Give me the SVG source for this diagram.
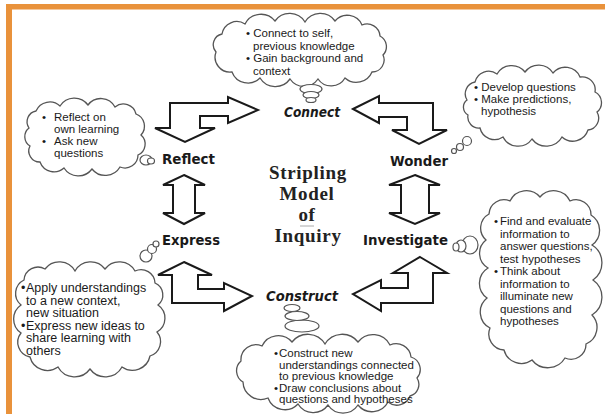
<svg xmlns="http://www.w3.org/2000/svg" width="605" height="414" viewBox="0 0 605 414">
<style>
.cloud{fill:#fff;stroke:#555;stroke-width:1.3}
.bub{fill:#fff;stroke:#555;stroke-width:1.2}
.arrow{fill:#fff;stroke:#1a1a1a;stroke-width:2;stroke-linejoin:miter}
.t{font-family:"Liberation Sans",Arial,sans-serif;font-size:11.5px;fill:#1a1a1a}
.t2{font-family:"Liberation Sans",Arial,sans-serif;font-size:12.5px;fill:#1a1a1a}
.lbl{font-family:"DejaVu Sans",sans-serif;font-weight:bold;font-size:14px;fill:#1a1a1a}
.it{font-style:italic}
.title{font-family:"Liberation Serif","Times New Roman",serif;font-weight:bold;font-size:19px;letter-spacing:0.7px;fill:#222;text-anchor:middle}
</style>
<rect x="0" y="0" width="605" height="414" fill="#fff"/>
<g id="border">
<rect x="6" y="4" width="599" height="5.5" fill="#E9923B"/>
<rect x="6" y="4" width="6" height="410" fill="#E9923B"/>
</g>
<g id="connectors">
<polygon class="arrow" points="170,128 170,103 228,103 228,97 258,110 228,123 228,116 200,116 200,128 215,128 185,142 155,128"/>
<polygon class="arrow" points="353,109 379,96 379,103 433,103 433,130 447,130 419,144 392,130 407,130 407,117 379,117 379,123"/>
<polygon class="arrow" points="184,262 212,275 198,275 198,289 224,289 224,283 252,296 224,311 224,303 172,303 172,275 158,275"/>
<polygon class="arrow" points="420,257 447,273 433,273 433,303 381,303 381,311 353,294 381,280 381,288 408,288 408,273 393,273"/>
<polygon class="arrow" points="184,175 205,185 195,185 195,213 205,213 184,224 163,213 173,213 173,185 163,185"/>
<polygon class="arrow" points="415,175 440,185 429,185 429,213 440,213 415,224 389,213 401,213 401,185 389,185"/>
</g>
<g id="title">
<text class="title" x="308" y="179">Stripling</text>
<text class="title" x="307" y="200">Model</text>
<text class="title" x="307" y="221">of</text>
<line x1="300" y1="226" x2="314" y2="226" stroke="#aaa" stroke-width="1"/>
<text class="title" x="308" y="242">Inquiry</text>
</g>
<g id="connect">
<text class="lbl it" x="284" y="117" textLength="56" lengthAdjust="spacingAndGlyphs">Connect</text>
<path class="cloud" d="M216,52 A11,11 0 0 1 222,34 A15,15 0 0 1 245,24 A18,18 0 0 1 275,21 A18,18 0 0 1 305,22 A18,18 0 0 1 335,21 A16,16 0 0 1 362,25 A13,13 0 0 1 380,36 A12,12 0 0 1 383,55 A12,12 0 0 1 372,72 A17,17 0 0 1 345,78 A16,16 0 0 1 318,79 A17,17 0 0 1 290,79 A18,18 0 0 1 260,78 A17,17 0 0 1 232,72 A15,15 0 0 1 216,52 Z"/>
<ellipse class="bub" cx="311" cy="89" rx="11" ry="4.5"/>
<ellipse class="bub" cx="311" cy="95" rx="8" ry="3.5"/>
<ellipse class="bub" cx="311" cy="100" rx="5" ry="2.5"/>
<text class="t" x="246" y="37">• Connect to self,</text>
<text class="t" x="253" y="49.5">previous knowledge</text>
<text class="t" x="246" y="62">• Gain background and</text>
<text class="t" x="253" y="74.5">context</text>
</g>
<g id="wonder">
<text class="lbl" x="390" y="166" textLength="58" lengthAdjust="spacingAndGlyphs">Wonder</text>
<path class="cloud" d="M467,100 A12,12 0 0 1 475,82 A14,14 0 0 1 497,74 A17,17 0 0 1 525,72 A17,17 0 0 1 553,73 A16,16 0 0 1 580,77 A13,13 0 0 1 595,92 A12,12 0 0 1 597,112 A12,12 0 0 1 588,130 A16,16 0 0 1 562,137 A18,18 0 0 1 532,139 A17,17 0 0 1 503,137 A15,15 0 0 1 480,128 A11,11 0 0 1 468,115 A9,9 0 0 1 467,100 Z"/>
<circle class="bub" cx="467" cy="141" r="4.5"/>
<circle class="bub" cx="460" cy="147" r="3.5"/>
<circle class="bub" cx="454" cy="151" r="2.5"/>
<text class="t" x="474" y="91">• Develop questions</text>
<text class="t" x="474" y="103">• Make predictions,</text>
<text class="t" x="481" y="115">hypothesis</text>
</g>
<g id="reflect">
<text class="lbl" x="162" y="164" textLength="53" lengthAdjust="spacingAndGlyphs">Reflect</text>
<path class="cloud" d="M29,128 A11,11 0 0 1 36,111 A15,15 0 0 1 60,106 A17,17 0 0 1 88,105 A16,16 0 0 1 115,107 A13,13 0 0 1 136,114 A13,13 0 0 1 141,135 A12,12 0 0 1 138,155 A13,13 0 0 1 120,167 A17,17 0 0 1 92,169 A17,17 0 0 1 64,168 A15,15 0 0 1 40,162 A11,11 0 0 1 30,146 A11,11 0 0 1 29,128 Z"/>
<ellipse class="bub" cx="146" cy="160" rx="6" ry="5"/>
<ellipse class="bub" cx="151" cy="161" rx="3.5" ry="3"/>
<text class="t" x="42" y="121">•</text>
<text class="t" x="54" y="121">Reflect on</text>
<text class="t" x="54" y="133">own learning</text>
<text class="t" x="42" y="145">•</text>
<text class="t" x="54" y="145">Ask new</text>
<text class="t" x="54" y="157">questions</text>
</g>
<g id="investigate">
<text class="lbl" x="363" y="245" textLength="85" lengthAdjust="spacingAndGlyphs">Investigate</text>
<path class="cloud" d="M489,214 A15,15 0 0 1 510,201 A18,18 0 0 1 540,197 A18,18 0 0 1 570,201 A15,15 0 0 1 591,215 A18,18 0 0 1 592,245 A21,21 0 0 1 593,280 A21,21 0 0 1 592,315 A18,18 0 0 1 586,344 A15,15 0 0 1 565,358 A20,20 0 0 1 532,360 A18,18 0 0 1 504,350 A16,16 0 0 1 490,328 A18,18 0 0 1 487,298 A18,18 0 0 1 488,268 A17,17 0 0 1 486,240 A16,16 0 0 1 489,214 Z"/>
<ellipse class="bub" cx="470" cy="245" rx="8" ry="9"/>
<ellipse class="bub" cx="461" cy="246" rx="5" ry="6"/>
<ellipse class="bub" cx="456" cy="247" rx="3" ry="4"/>
<text class="t" x="494" y="225">•</text>
<text class="t" x="500" y="225">Find and evaluate</text>
<text class="t" x="500" y="237.5">information to</text>
<text class="t" x="500" y="250">answer questions,</text>
<text class="t" x="500" y="262.5">test hypotheses</text>
<text class="t" x="494" y="275">•</text>
<text class="t" x="500" y="275">Think about</text>
<text class="t" x="500" y="287.5">information to</text>
<text class="t" x="500" y="300">illuminate new</text>
<text class="t" x="500" y="312.5">questions and</text>
<text class="t" x="500" y="325">hypotheses</text>
</g>
<g id="express">
<text class="lbl" x="162" y="245" textLength="58" lengthAdjust="spacingAndGlyphs">Express</text>
<path class="cloud" d="M24,280 A14,14 0 0 1 45,269 A18,18 0 0 1 75,271 A18,18 0 0 1 105,269 A18,18 0 0 1 135,271 A14,14 0 0 1 155,283 A13,13 0 0 1 158,305 A16,16 0 0 1 157,332 A15,15 0 0 1 150,356 A18,18 0 0 1 122,367 A19,19 0 0 1 90,369 A19,19 0 0 1 58,367 A18,18 0 0 1 30,357 A15,15 0 0 1 21,333 A17,17 0 0 1 21,305 A15,15 0 0 1 24,280 Z"/>
<circle class="bub" cx="146" cy="256" r="6"/>
<circle class="bub" cx="152" cy="249" r="4.5"/>
<circle class="bub" cx="156" cy="244" r="3"/>
<text class="t2" x="21" y="292">•</text>
<text class="t2" x="26" y="292">Apply understandings</text>
<text class="t2" x="26" y="304.5">to a new context,</text>
<text class="t2" x="26" y="317">new situation</text>
<text class="t2" x="21" y="329.5">•</text>
<text class="t2" x="26" y="329.5">Express new ideas to</text>
<text class="t2" x="26" y="342">share learning with</text>
<text class="t2" x="26" y="354.5">others</text>
</g>
<g id="construct">
<text class="lbl it" x="266" y="301" textLength="72" lengthAdjust="spacingAndGlyphs">Construct</text>
<path class="cloud" d="M241,361 A15,15 0 0 1 262,346 A18,18 0 0 1 292,342 A20,20 0 0 1 325,344 A20,20 0 0 1 358,342 A19,19 0 0 1 390,345 A15,15 0 0 1 411,357 A13,13 0 0 1 417,378 A12,12 0 0 1 410,396 A14,14 0 0 1 388,402 A18,18 0 0 1 358,405 A18,18 0 0 1 328,405 A18,18 0 0 1 298,404 A18,18 0 0 1 268,398 A18,18 0 0 1 243,382 A13,13 0 0 1 241,361 Z"/>
<ellipse class="bub" cx="302" cy="326" rx="17" ry="6"/>
<ellipse class="bub" cx="297" cy="316" rx="12" ry="4.5"/>
<ellipse class="bub" cx="292" cy="308" rx="8" ry="3.5"/>
<text class="t" x="274" y="357">•</text>
<text class="t" x="279" y="357">Construct new</text>
<text class="t" x="279" y="368.5">understandings connected</text>
<text class="t" x="279" y="380">to previous knowledge</text>
<text class="t" x="274" y="391.5">•</text>
<text class="t" x="279" y="391.5">Draw conclusions about</text>
<text class="t" x="279" y="403">questions and hypotheses</text>
</g>
</svg>
